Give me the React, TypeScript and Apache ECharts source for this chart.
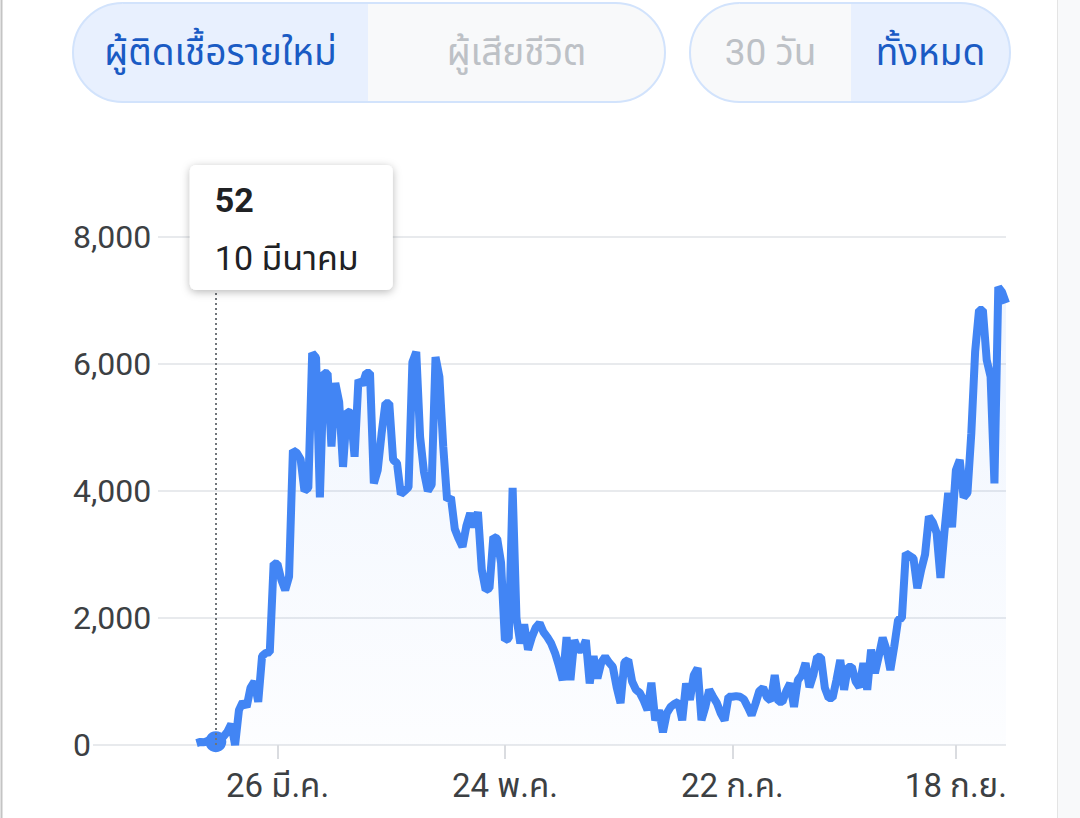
import React, { useEffect, useRef } from "react";
import * as echarts from "echarts";

// ---------- data ----------
const axisStart = "2020-02-24";
const axisEnd = "2020-10-01";
const seriesStart = "2020-03-05";

// daily new cases, one value per day from 5 Mar to 1 Oct
const newCases = [
  30, 48, 43, 67, 48, 52, 83, 134, 208, 330,
  0, 550, 680, 600, 900, 1000, 680, 1400, 1450, 1460,
  2860, 2850, 2600, 2440, 2650, 4640, 4600, 4500, 4000, 4050,
  6170, 6100, 3900, 5860, 5850, 4700, 5700, 5400, 4380, 5250,
  5230, 4540, 5750, 5670, 5860, 5860, 4120, 4330, 4900, 5380,
  5380, 4490, 4440, 3950, 4000, 4060, 6030, 6190, 4850, 4300,
  4000, 4100, 6110, 5800, 4700, 3860, 3900, 3400, 3250, 3120,
  3450, 3650, 3430, 3670, 2760, 2440, 2470, 3280, 3250, 2870,
  1650, 1680, 4050, 2000, 1600, 1900, 1500, 1700, 1850, 1920,
  1780, 1700, 1600, 1450, 1250, 1020, 1700, 1020, 1650, 1500,
  1500, 1650, 970, 1400, 1050, 1300, 1390, 1300, 1230, 910,
  660, 1300, 1340, 1000, 870, 820, 700, 550, 980, 390,
  550, 200, 500, 600, 650, 680, 390, 970, 710, 1100,
  1210, 390, 600, 870, 760, 660, 500, 390, 760, 760,
  770, 760, 720, 600, 470, 650, 850, 900, 750, 700,
  1100, 680, 680, 850, 970, 600, 1020, 1100, 1290, 910,
  1100, 1390, 1380, 900, 740, 740, 1020, 1340, 870, 1230,
  1230, 1000, 910, 1290, 870, 1500, 1130, 1400, 1690, 1500,
  1180, 1550, 1970, 2000, 3020, 2980, 2940, 2470, 2760, 3000,
  3600, 3510, 3340, 2630, 3340, 3970, 3430, 4330, 4490, 3900,
  3970, 4910, 6200, 6850, 6850, 6060, 5800, 4120, 7210, 7130,
  6960,
];

const tickDates = ["2020-03-26", "2020-05-24", "2020-07-22", "2020-09-18"];
const tickLabels = ["26 มี.ค.", "24 พ.ค.", "22 ก.ค.", "18 ก.ย."];
const yMin = 0;
const yMax = 8000;
const yStep = 2000;

const focusDate = "2020-03-10";
const focusLabel = "10 มีนาคม";

const metricTabs = ["ผู้ติดเชื้อรายใหม่", "ผู้เสียชีวิต"];
const rangeTabs = ["30 วัน", "ทั้งหมด"];

// ---------- helpers ----------
function buildDates(from: string, to: string): string[] {
  const out: string[] = [];
  const d = new Date(from + "T00:00:00Z");
  const end = new Date(to + "T00:00:00Z");
  while (d.getTime() <= end.getTime()) {
    out.push(d.toISOString().slice(0, 10));
    d.setUTCDate(d.getUTCDate() + 1);
  }
  return out;
}

const FONT = "Roboto, 'Noto Sans', 'Noto Sans Thai', 'DejaVu Sans', sans-serif";

export default function App() {
  const ref = useRef<HTMLDivElement>(null);

  useEffect(() => {
    if (!ref.current) return;
    const chart = echarts.init(ref.current, undefined, { renderer: "svg" });

    const categories = buildDates(axisStart, axisEnd);
    const offset = categories.indexOf(seriesStart);
    const lineData = categories.map((c, i) =>
      i < offset || i - offset >= newCases.length ? null : newCases[i - offset]
    );
    const focusValue = newCases[categories.indexOf(focusDate) - offset];
    const isTick = (_i: number, v: string) => tickDates.indexOf(v) >= 0;

    chart.setOption({
      animation: false,
      backgroundColor: "#ffffff",
      grid: { left: 158, right: 74, top: 237, bottom: 73, containLabel: false },
      xAxis: {
        type: "category",
        data: categories,
        boundaryGap: false,
        axisLine: { show: false },
        axisTick: {
          show: true,
          interval: isTick,
          length: 14,
          lineStyle: { color: "#dadce0", width: 2 },
        },
        axisLabel: {
          interval: isTick,
          formatter: (v: string) => {
            const k = tickDates.indexOf(v);
            return k >= 0 ? tickLabels[k] : "";
          },
          margin: 24,
          fontSize: 33,
          color: "#3c4043",
          fontFamily: FONT,
        },
        splitLine: { show: false },
      },
      yAxis: {
        type: "value",
        min: yMin,
        max: yMax,
        interval: yStep,
        axisLine: { show: false },
        axisTick: { show: false },
        axisLabel: {
          align: "left",
          margin: 85,
          fontSize: 32,
          color: "#3c4043",
          fontFamily: FONT,
          formatter: (v: number) => v.toLocaleString("en-US"),
        },
        splitLine: { lineStyle: { color: "#e8eaed", width: 2 } },
      },
      series: [
        {
          type: "line",
          data: lineData,
          showSymbol: false,
          symbol: "none",
          connectNulls: false,
          lineStyle: { color: "#4285f4", width: 8, join: "bevel" },
          areaStyle: {
            color: new echarts.graphic.LinearGradient(0, 0, 0, 1, [
              { offset: 0, color: "rgba(66,133,244,0.12)" },
              { offset: 1, color: "rgba(66,133,244,0.02)" },
            ]),
          },
          z: 3,
        },
        {
          type: "scatter",
          data: [[focusDate, focusValue]],
          symbol: "circle",
          symbolSize: 21,
          itemStyle: { color: "#4285f4", opacity: 1 },
          z: 4,
          markLine: {
            silent: true,
            symbol: ["none", "none"],
            label: { show: false },
            lineStyle: { type: [2, 3], color: "#70757a", width: 2, opacity: 1 },
            data: [{ xAxis: focusDate }],
          },
        },
      ],
    });

    const [fx] = chart.convertToPixel({ gridIndex: 0 }, [focusDate, focusValue]) as number[];
    const y0 = (chart.convertToPixel({ gridIndex: 0 }, [focusDate, 0]) as number[])[1];

    const pill = (
      x: number,
      w: number,
      split: number,
      labels: string[],
      selected: number
    ) => {
      const h = 99;
      const y = 3;
      const r = h / 2;
      const els: any[] = [
        { type: "rect", shape: { x, y, width: w, height: h, r }, style: { fill: "#f8f9fa" } },
      ];
      if (selected === 0) {
        els.push({
          type: "rect",
          shape: { x, y, width: split - x, height: h, r: [r, 0, 0, r] },
          style: { fill: "#e8f0fe" },
        });
      } else {
        els.push({
          type: "rect",
          shape: { x: split, y, width: x + w - split, height: h, r: [0, r, r, 0] },
          style: { fill: "#e8f0fe" },
        });
      }
      els.push({
        type: "rect",
        shape: { x, y, width: w, height: h, r },
        style: { fill: "transparent", stroke: "#d2e3fc", lineWidth: 2 },
      });
      const centers = [(x + split) / 2, (split + x + w) / 2];
      labels.forEach((t, i) => {
        els.push({
          type: "text",
          x: centers[i],
          y: y + h / 2,
          style: {
            text: t,
            fill: i === selected ? "#1a5bc4" : "#bdc1c6",
            fontSize: 37,
            fontFamily: FONT,
            align: "center",
            verticalAlign: "middle",
          },
        });
      });
      return els;
    };

    const graphics: any[] = [
      { type: "line", shape: { x1: 1.5, y1: 0, x2: 1.5, y2: 818 }, style: { stroke: "#c4c4c4", lineWidth: 2 } },
      { type: "rect", shape: { x: 1057, y: 0, width: 23, height: 818 }, style: { fill: "#f8f9fa" } },
      { type: "line", shape: { x1: 1057.5, y1: 0, x2: 1057.5, y2: 818 }, style: { stroke: "#e4e4e4", lineWidth: 1 } },
      ...pill(73, 592, 368, metricTabs, 0),
      ...pill(690, 320, 851, rangeTabs, 1),
      { type: "line", shape: { x1: 93, y1: y0, x2: 158, y2: y0 }, style: { stroke: "#e8eaed", lineWidth: 2 } },
      {
        type: "rect",
        z: 50,
        shape: { x: fx - 26, y: 165, width: 203, height: 125, r: 6 },
        style: {
          fill: "#ffffff",
          shadowBlur: 8,
          shadowOffsetY: 2,
          shadowColor: "rgba(0,0,0,0.28)",
        },
      },
      {
        type: "text",
        z: 51,
        x: fx - 1,
        y: 200,
        style: {
          text: String(focusValue),
          fill: "#202124",
          fontSize: 34,
          fontWeight: "bold",
          fontFamily: FONT,
          align: "left",
          verticalAlign: "middle",
        },
      },
      {
        type: "text",
        z: 51,
        x: fx - 1,
        y: 258,
        style: {
          text: focusLabel,
          fill: "#202124",
          fontSize: 34,
          fontFamily: FONT,
          align: "left",
          verticalAlign: "middle",
        },
      },
    ];

    chart.setOption({ graphic: graphics });

    return () => chart.dispose();
  }, []);

  return (
    <div
      ref={ref}
      style={{ position: "fixed", left: 0, top: 0, width: 1080, height: 818, background: "#fff" }}
    />
  );
}
